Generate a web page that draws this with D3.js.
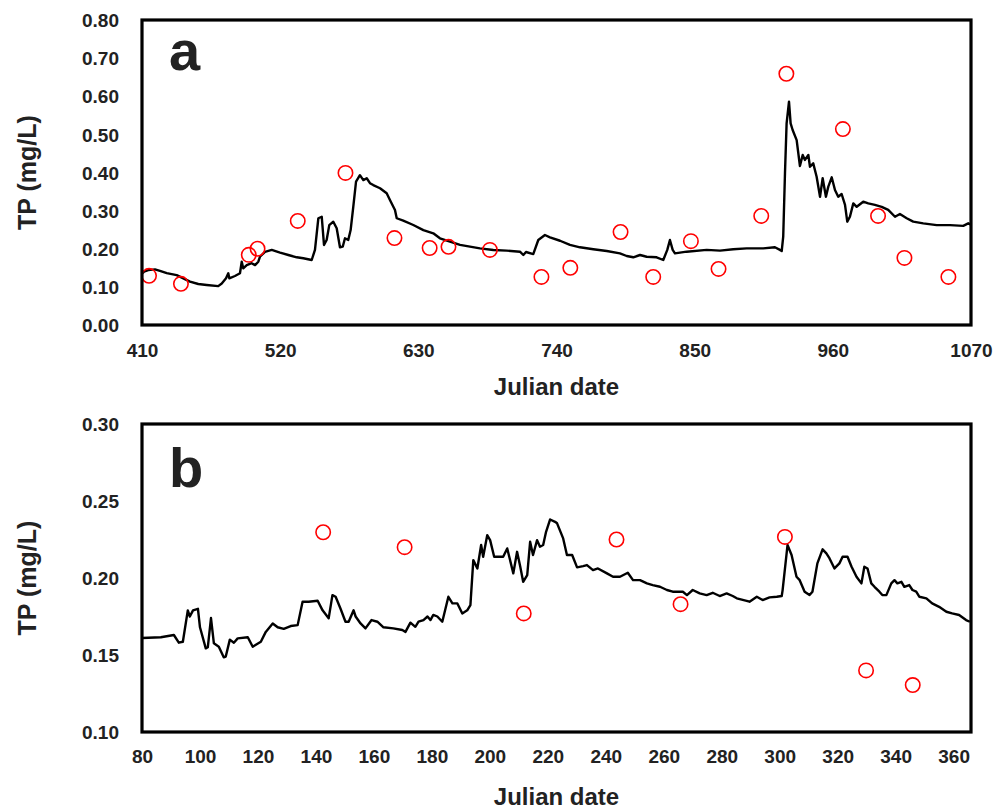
<!DOCTYPE html>
<html>
<head>
<meta charset="utf-8">
<script src="https://cdn.jsdelivr.net/npm/d3@7"></script>
<style>
  html, body { margin: 0; padding: 0; background: #fff; }
  svg { display: block; }
  text { font-family: Arial, "Liberation Sans", sans-serif; font-weight: bold; fill: #222; }
</style>
</head>
<body>
<svg id="chart" width="994" height="811"></svg>
<script>
// ---------- Panel a data ----------
const aXTicks = [410, 520, 630, 740, 850, 960, 1070];
const aYTicks = [0.0, 0.1, 0.2, 0.3, 0.4, 0.5, 0.6, 0.7, 0.8];
const aLineX = [410.5,411.6,415.0,420.3,424.3,429.7,437.6,442.9,448.2,454.8,461.5,470.7,473.5,476.9,478.7,479.5,484.0,488.0,489.4,490.6,493.4,497.3,500.0,502.6,503.9,507.9,513.3,519.9,526.5,533.2,538.4,545.1,547.7,550.4,553.1,554.9,557.0,559.1,562.3,565.0,567.6,569.8,571.6,574.2,576.1,578.2,580.4,583.5,586.2,588.9,591.5,594.1,599.5,604.8,607.4,611.4,612.8,618.0,626.0,634.0,641.9,647.2,655.2,663.2,671.1,679.1,689.7,700.3,710.9,713.6,715.7,721.5,725.5,730.8,734.8,742.8,750.7,758.7,769.3,780.0,790.5,795.9,801.1,806.5,811.8,819.7,825.0,828.2,830.3,832.5,834.3,843.6,859.6,870.2,880.7,891.4,904.6,913.9,917.9,919.3,920.5,921.9,923.2,925.1,926.4,928.0,931.2,933.8,936.0,937.8,940.5,941.8,944.4,947.1,949.8,951.9,954.5,956.4,959.1,961.7,964.3,967.0,969.7,971.5,973.6,976.3,979.0,984.2,988.2,993.5,998.9,1004.1,1009.5,1013.4,1018.8,1024.0,1032.0,1042.7,1053.3,1063.8,1067.8,1069.5];
const aLineY = [0.136,0.140,0.144,0.146,0.142,0.136,0.131,0.1225,0.1136,0.1075,0.105,0.102,0.109,0.1225,0.1356,0.1225,0.1285,0.1356,0.166,0.1487,0.157,0.162,0.157,0.166,0.179,0.192,0.197,0.19,0.1836,0.1776,0.175,0.1705,0.197,0.28,0.284,0.21,0.223,0.262,0.271,0.2536,0.204,0.2054,0.2274,0.223,0.249,0.310,0.376,0.393,0.380,0.385,0.372,0.367,0.3586,0.3454,0.328,0.3016,0.280,0.2736,0.2623,0.249,0.2405,0.2274,0.2185,0.21,0.2054,0.201,0.1967,0.195,0.1923,0.1836,0.1915,0.186,0.223,0.236,0.230,0.221,0.21,0.2038,0.1986,0.194,0.188,0.181,0.1776,0.1836,0.179,0.1776,0.1705,0.197,0.223,0.197,0.188,0.1923,0.197,0.195,0.1986,0.201,0.201,0.204,0.197,0.194,0.2316,0.398,0.529,0.586,0.529,0.5115,0.485,0.417,0.446,0.433,0.446,0.415,0.424,0.389,0.3365,0.385,0.3365,0.363,0.3874,0.354,0.3365,0.3436,0.315,0.271,0.284,0.319,0.310,0.3234,0.319,0.315,0.310,0.302,0.284,0.291,0.28,0.271,0.2667,0.262,0.262,0.26,0.2667,0.264];
const aObsX = [415.6,441,495,502,534,572,611,639,654,687,728,751,791,817,847,869,903,923,968,996,1017,1052];
const aObsY = [0.129,0.108,0.184,0.2,0.273,0.399,0.228,0.202,0.205,0.197,0.126,0.15,0.244,0.126,0.22,0.147,0.286,0.659,0.514,0.286,0.176,0.126];

// ---------- Panel b data ----------
const bXTicks = [80,100,120,140,160,180,200,220,240,260,280,300,320,340,360];
const bYTicks = [0.10, 0.15, 0.20, 0.25, 0.30];
const bLineX = [80,86.5,91.0,92.7,94.1,95.8,96.5,97.6,99.3,100.0,102.0,102.7,103.8,104.8,106.5,108.2,108.9,110.3,111.7,113.0,116.5,118.2,121.0,122.7,125.1,126.8,128.9,131.3,133.7,135.4,137.5,140.6,142.3,144.4,145.7,146.8,148.5,150.2,151.3,153.0,153.7,155.4,157.1,159.2,161.2,163.3,166.7,169.8,170.9,172.6,174.3,175.4,177.1,178.5,179.5,180.5,181.9,183.6,185.7,187.1,188.8,190.5,192.2,193.3,194.3,195.7,197.0,197.7,199.1,200.1,201.5,204.6,206.0,208.1,209.4,210.5,211.5,212.9,213.9,214.9,216.3,217.3,218.4,219.4,220.8,222.5,223.2,225.3,226.6,228.4,230.1,232.2,233.5,235.6,237.3,240.4,242.5,244.9,247.6,249.4,251.8,254.2,256.2,258.7,261.1,263.1,266.6,268.0,270.0,272.4,274.8,276.9,279.3,281.7,283.8,285.2,288.6,289.6,292.1,294.1,296.5,299.0,300.7,301.0,302.7,304.1,305.8,306.9,308.6,310.3,311.3,313.0,314.8,316.1,317.2,318.9,320.6,321.7,323.4,324.8,326.5,328.2,329.2,330.3,331.6,332.7,334.4,335.4,336.8,338.5,339.6,340.6,342.0,343.0,344.7,345.8,347.1,348.2,350.6,352.6,355.0,357.5,359.5,361.9,364.3,365.6];
const bLineY = [0.161,0.1615,0.163,0.158,0.1586,0.179,0.175,0.179,0.180,0.168,0.1543,0.155,0.174,0.1576,0.1554,0.1485,0.149,0.160,0.158,0.1608,0.1615,0.1554,0.1586,0.165,0.1705,0.168,0.167,0.1688,0.1694,0.1846,0.1846,0.1852,0.179,0.1738,0.1889,0.1878,0.180,0.1716,0.1716,0.179,0.175,0.1705,0.1673,0.1727,0.1716,0.168,0.1673,0.1662,0.165,0.171,0.1683,0.1716,0.1727,0.175,0.1727,0.176,0.175,0.1716,0.1878,0.1835,0.1835,0.177,0.179,0.1824,0.2116,0.2062,0.2214,0.2138,0.2278,0.2246,0.2138,0.2138,0.2192,0.203,0.217,0.2073,0.1975,0.2019,0.2235,0.2149,0.2246,0.2203,0.2214,0.230,0.238,0.2365,0.2355,0.2257,0.2149,0.2149,0.2069,0.2077,0.2084,0.2051,0.2062,0.203,0.2008,0.2008,0.2034,0.1986,0.1986,0.1965,0.1954,0.1943,0.1922,0.1911,0.1911,0.1889,0.1922,0.19,0.1889,0.1904,0.1883,0.19,0.1883,0.1868,0.1852,0.1846,0.1878,0.1857,0.1874,0.1878,0.1883,0.192,0.2214,0.2149,0.2008,0.1986,0.1911,0.1889,0.1911,0.2095,0.2186,0.216,0.2127,0.2062,0.2095,0.2138,0.2138,0.2073,0.2008,0.1965,0.2073,0.2062,0.1965,0.1943,0.1911,0.1889,0.1889,0.1965,0.1986,0.1965,0.1975,0.1943,0.1954,0.1922,0.1911,0.1878,0.1868,0.1835,0.1813,0.1781,0.177,0.176,0.1727,0.1716];
const bObsX = [142.5,170.6,211.7,243.7,265.8,301.8,329.8,345.9];
const bObsY = [0.2297,0.220,0.177,0.225,0.183,0.2267,0.140,0.1305];

const svg = d3.select("#chart");

function panel(cfg) {
  const x = d3.scaleLinear().domain(cfg.xDomain).range([cfg.left, cfg.right]);
  const y = d3.scaleLinear().domain(cfg.yDomain).range([cfg.bottom, cfg.top]);
  const g = svg.append("g");

  // simulated line
  const pts = cfg.lineX.map((d, i) => [d, cfg.lineY[i]]);
  g.append("path")
    .datum(pts)
    .attr("fill", "none")
    .attr("stroke", "#000")
    .attr("stroke-width", 2.4)
    .attr("stroke-linejoin", "round")
    .attr("d", d3.line().x(d => x(d[0])).y(d => y(d[1])));

  // observed circles
  const obs = cfg.obsX.map((d, i) => [d, cfg.obsY[i]]);
  g.selectAll("circle.obs").data(obs).enter().append("circle")
    .attr("class", "obs")
    .attr("cx", d => x(d[0])).attr("cy", d => y(d[1]))
    .attr("r", 7.2)
    .attr("fill", "none")
    .attr("stroke", "#ff0000")
    .attr("stroke-width", 1.6);

  // frame
  g.append("rect")
    .attr("x", cfg.left).attr("y", cfg.top)
    .attr("width", cfg.right - cfg.left).attr("height", cfg.bottom - cfg.top)
    .attr("fill", "none").attr("stroke", "#000").attr("stroke-width", 3.2);

  // axes (labels only, no tick marks)
  const xAxis = d3.axisBottom(x).tickValues(cfg.xTicks).tickSize(0).tickPadding(0)
    .tickFormat(d3.format("d"));
  const xg = g.append("g").attr("transform", `translate(0,${cfg.bottom})`).call(xAxis);
  xg.select(".domain").remove();
  xg.selectAll("text").attr("dy", null).attr("y", cfg.xLabelY - cfg.bottom)
    .style("font-size", "19px").style("font-weight", "bold")
    .style("font-family", "Arial, 'Liberation Sans', sans-serif").attr("fill", "#222");

  const yAxis = d3.axisLeft(y).tickValues(cfg.yTicks).tickSize(0).tickPadding(0)
    .tickFormat(d3.format(".2f"));
  const yg = g.append("g").attr("transform", `translate(${cfg.yLabelRight},0)`).call(yAxis);
  yg.select(".domain").remove();
  yg.selectAll("text").attr("x", 0).attr("dy", "0.35em")
    .style("font-size", "19px").style("font-weight", "bold")
    .style("font-family", "Arial, 'Liberation Sans', sans-serif").attr("fill", "#222");

  // axis titles
  g.append("text")
    .attr("transform", `translate(${cfg.yTitleX},${(cfg.top + cfg.bottom) / 2}) rotate(-90)`)
    .attr("text-anchor", "middle")
    .style("font-size", "25px")
    .text("TP (mg/L)");
  g.append("text")
    .attr("x", (cfg.left + cfg.right) / 2).attr("y", cfg.xTitleY)
    .attr("text-anchor", "middle")
    .style("font-size", "24px")
    .text("Julian date");

  // panel letter
  g.append("text")
    .attr("x", cfg.left + 27).attr("y", cfg.letterY)
    .style("font-size", "56px")
    .attr("fill", "#000")
    .text(cfg.letter);
}

panel({
  xDomain: [410, 1070], yDomain: [0, 0.8],
  left: 142, right: 971, top: 20, bottom: 325,
  xTicks: aXTicks, yTicks: aYTicks,
  lineX: aLineX, lineY: aLineY, obsX: aObsX, obsY: aObsY,
  xLabelY: 357, yLabelRight: 119, yTitleX: 36, xTitleY: 395,
  letter: "a", letterY: 70
});

panel({
  xDomain: [80, 366], yDomain: [0.10, 0.30],
  left: 142, right: 971, top: 424, bottom: 732,
  xTicks: bXTicks, yTicks: bYTicks,
  lineX: bLineX, lineY: bLineY, obsX: bObsX, obsY: bObsY,
  xLabelY: 763, yLabelRight: 119, yTitleX: 36, xTitleY: 805,
  letter: "b", letterY: 487
});
</script>
</body>
</html>
